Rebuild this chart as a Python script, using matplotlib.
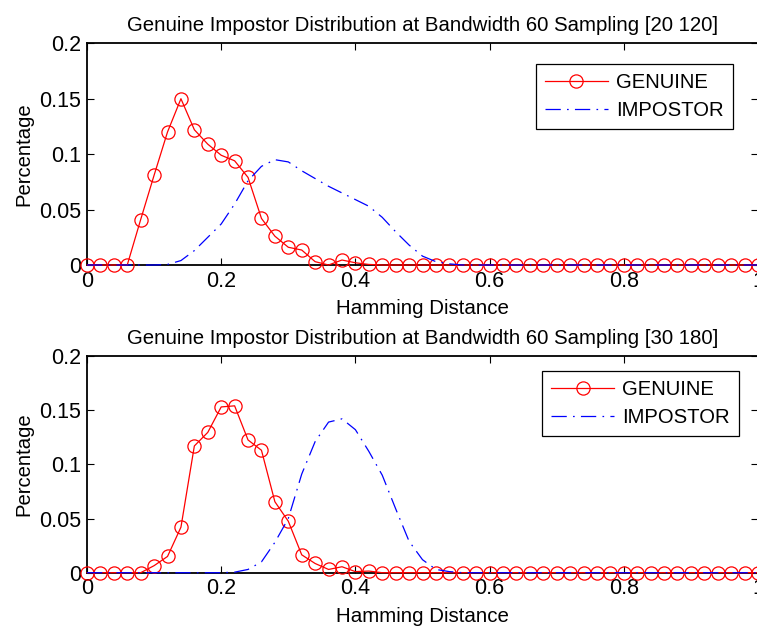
import matplotlib
matplotlib.use("Agg")
import matplotlib.pyplot as plt

plt.rcParams['font.family'] = ['Liberation Sans', 'DejaVu Sans']
plt.rcParams['lines.scale_dashes'] = False

# Data
hamming = [0.00, 0.02, 0.04, 0.06, 0.08, 0.10, 0.12, 0.14, 0.16, 0.18,
           0.20, 0.22, 0.24, 0.26, 0.28, 0.30, 0.32, 0.34, 0.36, 0.38,
           0.40, 0.42, 0.44, 0.46, 0.48, 0.50, 0.52, 0.54, 0.56, 0.58,
           0.60, 0.62, 0.64, 0.66, 0.68, 0.70, 0.72, 0.74, 0.76, 0.78,
           0.80, 0.82, 0.84, 0.86, 0.88, 0.90, 0.92, 0.94, 0.96, 0.98, 1.00]

genuine_20_120 = [0, 0, 0, 0, 0.041, 0.081, 0.120, 0.150, 0.122, 0.109,
                  0.099, 0.094, 0.079, 0.042, 0.026, 0.016, 0.0135, 0.003, 0.0, 0.0045,
                  0.002, 0.0005] + [0] * 29
impostor_20_120 = [0, 0, 0, 0, 0, 0, 0.0005, 0.004, 0.013, 0.025,
                   0.037, 0.055, 0.076, 0.089, 0.095, 0.093, 0.085, 0.078, 0.071, 0.065,
                   0.059, 0.053, 0.043, 0.030, 0.018, 0.008, 0.003, 0.001] + [0] * 23

genuine_30_180 = [0, 0, 0, 0, 0, 0.0065, 0.015, 0.042, 0.117, 0.1295,
                  0.153, 0.154, 0.1225, 0.113, 0.0655, 0.0475, 0.0165, 0.0085, 0.003, 0.0055,
                  0.001, 0.0015] + [0] * 29
impostor_30_180 = [0, 0, 0, 0, 0, 0, 0, 0, 0, 0,
                   0, 0.0005, 0.003, 0.010, 0.028, 0.050, 0.091, 0.121, 0.139, 0.142,
                   0.132, 0.112, 0.090, 0.059, 0.029, 0.012, 0.003, 0.001] + [0] * 23

titles = ["Genuine Impostor Distribution at Bandwidth 60 Sampling [20 120]",
          "Genuine Impostor Distribution at Bandwidth 60 Sampling [30 180]"]
xticks = [0, 0.2, 0.4, 0.6, 0.8, 1.0]
xticklabels = ["0", "0.2", "0.4", "0.6", "0.8", "1"]
yticks = [0, 0.05, 0.1, 0.15, 0.2]
yticklabels = ["0", "0.05", "0.1", "0.15", "0.2"]

W, H = 757, 629
fig = plt.figure(figsize=(W / 100, H / 100), dpi=100)

# axes boxes in pixels: left, top, right, bottom
boxes = [(87, 43.3, 758, 265), (87, 356, 758, 572.7)]
legend_anchor = [(0.962, 0.907), (0.972, 0.931)]
series = [(genuine_20_120, impostor_20_120), (genuine_30_180, impostor_30_180)]

for k in range(2):
    l, t, r, b = boxes[k]
    ax = fig.add_axes([l / W, 1 - b / H, (r - l) / W, (b - t) / H])
    gen, imp = series[k]
    ax.plot(hamming, gen, color='red', lw=0.9, marker='o', ms=9.5, mfc='none',
            mec='red', mew=0.9, label='GENUINE', clip_on=False, zorder=5)
    ax.plot(hamming, imp, color='blue', lw=0.9, ls=(0, (11, 4.5, 1.2, 4.5)),
            label='IMPOSTOR', clip_on=False, zorder=6)
    ax.set_xlim(0, 1)
    ax.set_ylim(0, 0.2)
    ax.set_xticks(xticks)
    ax.set_xticklabels(xticklabels)
    ax.set_yticks(yticks)
    ax.set_yticklabels(yticklabels)
    ax.tick_params(direction='in', length=5, width=0.8, top=True, right=True,
                   labelsize=15.5, pad=4)
    for s in ax.spines.values():
        s.set_linewidth(1.3)
    ax.set_title(titles[k], fontsize=14.7, pad=9)
    ax.set_xlabel("Hamming Distance", fontsize=14.8, labelpad=5.5)
    ax.set_ylabel("Percentage", fontsize=14.6, labelpad=4)
    leg = ax.legend(loc='upper right', bbox_to_anchor=legend_anchor[k], borderaxespad=0,
                    fontsize=14.6, fancybox=False, framealpha=1, edgecolor='black',
                    handlelength=3.1, handletextpad=0.4, borderpad=0.45, labelspacing=0.45)
    leg.get_frame().set_linewidth(0.9)

fig.savefig("out.png", dpi=100)
